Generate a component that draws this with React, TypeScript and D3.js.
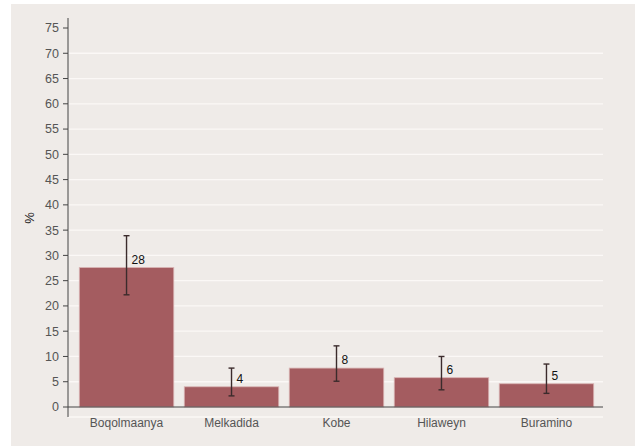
import React from "react";
import * as d3 from "d3";

const categories = ["Boqolmaanya", "Melkadida", "Kobe", "Hilaweyn", "Buramino"];
const values = [27.6, 4.0, 7.7, 5.8, 4.6];
const lower = [22.2, 2.2, 5.1, 3.4, 2.7];
const upper = [33.9, 7.7, 12.1, 10.0, 8.5];
const labels = ["28", "4", "8", "6", "5"];
const yTicks = [0, 5, 10, 15, 20, 25, 30, 35, 40, 45, 50, 55, 60, 65, 70, 75];

const W = 635;
const H = 446;

export default function App() {
  const y = d3.scaleLinear().domain([0, 75]).range([407, 28]);
  const x = d3
    .scaleBand<string>()
    .domain(categories)
    .range([69, 604])
    .paddingInner(0.1)
    .paddingOuter(0.098);
  const font = "'Liberation Sans', Arial, Helvetica, sans-serif";
  return (
    <svg
      width={W}
      height={H}
      style={{ position: "absolute", left: 0, top: 0 }}
      fontFamily={font}
    >
      <rect x={11} y={4} width={W - 11} height={H - 4} fill="#efebe8" />
      {yTicks
        .filter((t) => t > 0 && t < 75)
        .map((t) => (
          <line
            key={"g" + t}
            x1={68}
            x2={603}
            y1={y(t)}
            y2={y(t)}
            stroke="#fbf8f6"
            strokeWidth={1.3}
          />
        ))}
      <line x1={68} x2={603} y1={417} y2={417} stroke="#fbf8f6" strokeWidth={1.3} />
      {categories.map((c, i) => (
        <rect
          key={c}
          x={x(c)}
          y={y(values[i])}
          width={x.bandwidth()}
          height={y(0) - y(values[i])}
          fill="#a45c60"
          stroke="#d9b4b4"
          strokeWidth={0.8}
        />
      ))}
      <line x1={68} x2={603} y1={y(0)} y2={y(0)} stroke="#444" strokeWidth={1} />
      <line x1={68} x2={68} y1={18} y2={417} stroke="#444" strokeWidth={1} />
      {yTicks.map((t) => (
        <g key={"t" + t}>
          <line x1={63} x2={68} y1={y(t)} y2={y(t)} stroke="#444" strokeWidth={1} />
          <text
            x={59}
            y={y(t)}
            dy="0.35em"
            textAnchor="end"
            fontSize={12.5}
            fill="#555"
          >
            {t}
          </text>
        </g>
      ))}
      {categories.map((c, i) => {
        const cx = (x(c) as number) + x.bandwidth() / 2;
        return (
          <g key={"e" + c}>
            <line x1={cx} x2={cx} y1={y(upper[i])} y2={y(lower[i])} stroke="#3b2b2c" strokeWidth={1.4} />
            <line x1={cx - 3} x2={cx + 3} y1={y(upper[i])} y2={y(upper[i])} stroke="#3b2b2c" strokeWidth={1.4} />
            <line x1={cx - 3} x2={cx + 3} y1={y(lower[i])} y2={y(lower[i])} stroke="#3b2b2c" strokeWidth={1.4} />
            <text x={cx + 5} y={y(values[i]) - 4} fontSize={12} fill="#111">
              {labels[i]}
            </text>
            <text x={cx} y={427} textAnchor="middle" fontSize={12} fill="#555">
              {c}
            </text>
          </g>
        );
      })}
      <text
        transform="translate(34,218) rotate(-90)"
        textAnchor="middle"
        fontSize={13}
        fill="#222"
      >
        %
      </text>
    </svg>
  );
}
